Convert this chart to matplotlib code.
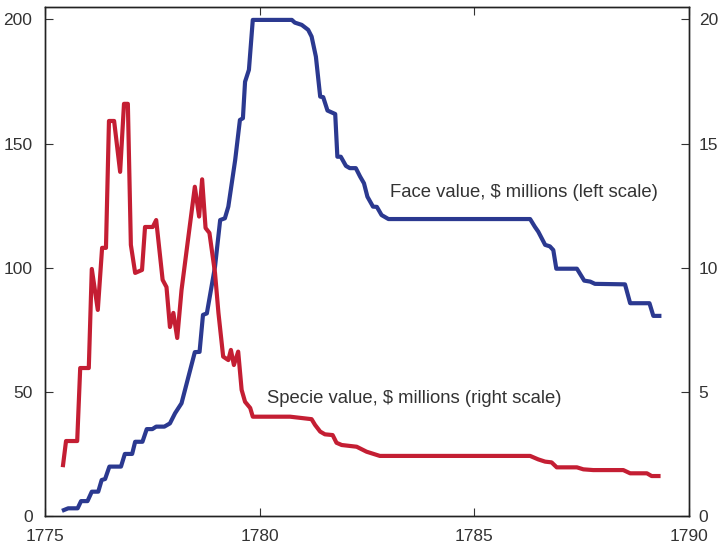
import numpy as np
import matplotlib.pyplot as plt

# Face value of Continental currency, $ millions (left scale)
face_years = [1775.44, 1775.54, 1775.76, 1775.84, 1775.99, 1776.09, 1776.24, 1776.32, 1776.40,
              1776.50, 1776.77, 1776.86, 1777.03, 1777.10, 1777.27, 1777.37, 1777.50, 1777.59,
              1777.78, 1777.91, 1778.03, 1778.18, 1778.49, 1778.60, 1778.68, 1778.77, 1778.96,
              1779.08, 1779.19, 1779.27, 1779.43, 1779.54, 1779.61, 1779.66, 1779.75, 1779.84,
              1780.75, 1780.82, 1780.98, 1781.13, 1781.21, 1781.31, 1781.41, 1781.48, 1781.58,
              1781.76, 1781.81, 1781.89, 1782.01, 1782.10, 1782.24, 1782.34, 1782.43, 1782.51,
              1782.64, 1782.73, 1782.84, 1783.00, 1786.30, 1786.41, 1786.49, 1786.65, 1786.76,
              1786.84, 1786.91, 1787.39, 1787.56, 1787.70, 1787.81, 1788.51, 1788.63, 1789.08,
              1789.17, 1789.31]
face_value = [2.4, 3.1, 3.1, 6.0, 6.0, 9.8, 9.8, 14.5, 14.9,
              19.9, 19.9, 25.0, 25.0, 29.9, 29.9, 35.0, 35.0, 36.0,
              36.0, 37.3, 41.4, 45.4, 66.0, 66.1, 81.0, 81.6, 100.4,
              119.2, 119.9, 124.6, 143.4, 159.5, 160.2, 174.9, 179.7, 199.8,
              199.8, 198.7, 197.8, 195.8, 193.1, 185.0, 168.9, 168.7, 163.3,
              161.9, 144.7, 144.7, 141.0, 140.1, 140.1, 136.7, 134.0, 128.6,
              124.6, 124.5, 121.2, 119.6, 119.6, 116.5, 114.5, 109.2, 108.6,
              107.1, 99.6, 99.6, 94.8, 94.4, 93.5, 93.3, 85.7, 85.7,
              80.6, 80.6]

# Specie value, $ millions (right scale)
specie_years = [1775.42, 1775.49, 1775.75, 1775.82, 1776.02, 1776.09, 1776.23, 1776.33, 1776.42,
                1776.49, 1776.61, 1776.75, 1776.84, 1776.93, 1777.00, 1777.10, 1777.26, 1777.33,
                1777.51, 1777.59, 1777.74, 1777.83, 1777.91, 1777.99, 1778.08, 1778.18, 1778.30,
                1778.49, 1778.59, 1778.66, 1778.74, 1778.83, 1778.96, 1779.04, 1779.15, 1779.27,
                1779.33, 1779.40, 1779.50, 1779.58, 1779.66, 1779.78, 1779.84, 1780.71, 1781.21,
                1781.29, 1781.41, 1781.52, 1781.70, 1781.79, 1781.91, 1782.26, 1782.49, 1782.80,
                1786.30, 1786.49, 1786.65, 1786.80, 1786.92, 1787.39, 1787.54, 1787.77, 1788.47,
                1788.63, 1789.02, 1789.13, 1789.29]
specie_value = [2.05, 3.02, 3.02, 5.96, 5.96, 9.95, 8.30, 10.80, 10.80,
                15.91, 15.91, 13.86, 16.60, 16.60, 10.92, 9.79, 9.91, 11.64,
                11.64, 11.92, 9.51, 9.22, 7.61, 8.18, 7.17, 9.10, 10.71,
                13.26, 12.06, 13.56, 11.60, 11.40, 9.79, 8.18, 6.42, 6.28,
                6.69, 6.08, 6.62, 5.08, 4.60, 4.35, 4.00, 4.00, 3.90,
                3.67, 3.40, 3.29, 3.26, 2.95, 2.86, 2.79, 2.59, 2.42,
                2.42, 2.28, 2.19, 2.16, 1.96, 1.96, 1.88, 1.85, 1.85,
                1.72, 1.72, 1.61, 1.61]

x_ticks = [1775, 1780, 1785, 1790]
left_ticks = [0, 50, 100, 150, 200]
right_ticks = [0, 5, 10, 15, 20]

plt.rcParams['font.family'] = ['Liberation Sans', 'DejaVu Sans']
text_col = '#333333'
blue = '#2B3990'
red = '#C41E33'

fig = plt.figure(figsize=(7.2, 5.43), dpi=100)
ax = fig.add_axes([0.0625, 0.0497, 0.8944, 0.9365])
ax2 = ax.twinx()

ax.plot(face_years, face_value, color=blue, lw=3, zorder=3)
ax2.plot(specie_years, specie_value, color=red, lw=3, zorder=3)

ax.set_xlim(1775, 1790)
ax.set_ylim(0, 204.8)
ax2.set_ylim(0, 20.48)

ax.set_xticks(x_ticks)
ax.set_yticks(left_ticks)
ax2.set_yticks(right_ticks)

ax.tick_params(axis='x', direction='in', length=6, top=True, pad=9, labelsize=12.5, colors=text_col)
ax.tick_params(axis='y', direction='in', length=6, pad=9, labelsize=12.5, colors=text_col)
ax2.tick_params(axis='y', direction='in', length=6, pad=7, labelsize=12.5, colors=text_col)

for a in (ax, ax2):
    for s in a.spines.values():
        s.set_color('#222222')
        s.set_linewidth(1.0)

ax.text(1783.04, 130.1, 'Face value, $ millions (left scale)', fontsize=13.3,
        color=text_col, va='center', ha='left')
ax.text(1780.17, 47.5, 'Specie value, $ millions (right scale)', fontsize=13.3,
        color=text_col, va='center', ha='left')

fig.savefig('out.png', dpi=100)
